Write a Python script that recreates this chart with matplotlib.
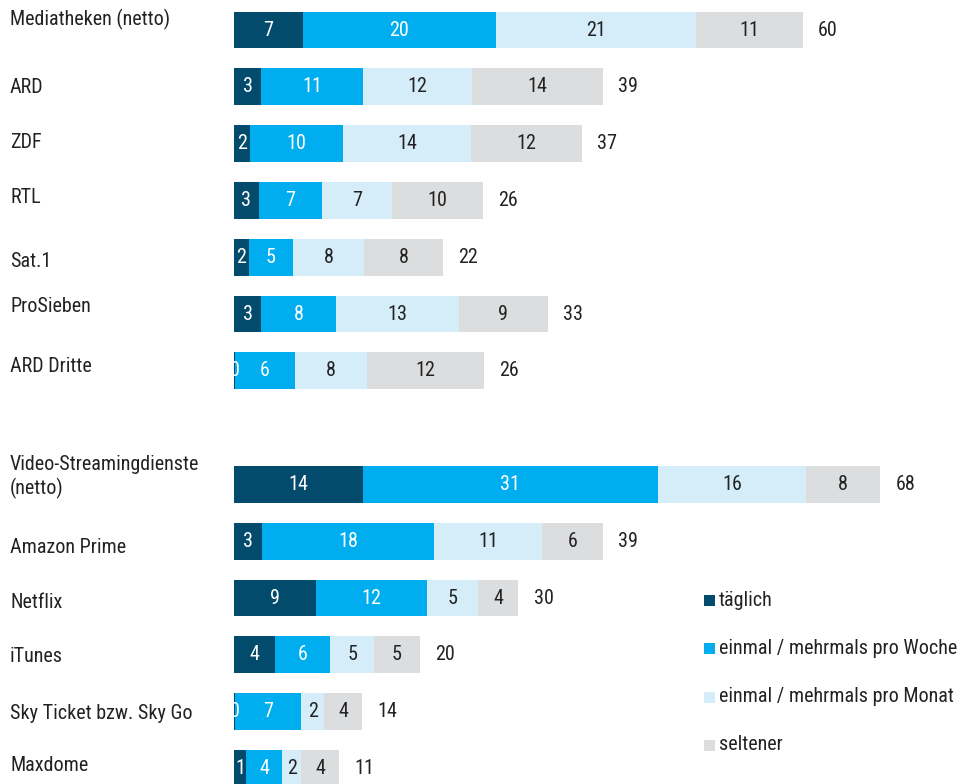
import matplotlib
matplotlib.use('Agg')
import matplotlib.pyplot as plt
from matplotlib.patches import Rectangle
from matplotlib.transforms import blended_transform_factory

plt.rcParams['font.family'] = ['Roboto Condensed', 'Roboto', 'DejaVu Sans']

categories = ['Mediatheken (netto)', 'ARD', 'ZDF', 'RTL', 'Sat.1', 'ProSieben', 'ARD Dritte',
              'Video-Streamingdienste\n(netto)', 'Amazon Prime', 'Netflix', 'iTunes',
              'Sky Ticket bzw. Sky Go', 'Maxdome']
positions = [0, 1, 2, 3, 4, 5, 6, 8, 9, 10, 11, 12, 13]

# Prozent, Balkenlaengen aus dem Bild geschaetzt (Beschriftung = gerundet)
taeglich = [7.3, 2.9, 1.7, 2.6, 1.6, 2.9, 0.14, 13.6, 3.0, 8.7, 4.3, 0.14, 1.3]
woche = [20.4, 10.7, 9.8, 6.7, 4.6, 7.9, 6.3, 31.3, 18.2, 11.7, 5.9, 7.0, 3.8]
monat = [21.2, 11.6, 13.6, 7.4, 7.6, 13.0, 7.6, 15.6, 11.4, 5.4, 4.6, 2.4, 2.0]
seltener = [11.3, 13.8, 11.7, 9.6, 8.3, 9.4, 12.4, 7.9, 6.4, 4.3, 4.9, 4.0, 4.0]
totals = [60, 39, 37, 26, 22, 33, 26, 68, 39, 30, 20, 14, 11]

series_names = ['täglich', 'einmal / mehrmals pro Woche', 'einmal / mehrmals pro Monat', 'seltener']
colors = ['#034b6c', '#00aeef', '#d5edf9', '#dcdddf']
text_colors = ['white', 'white', '#222222', '#222222']
fs = 14.5

# die Kategorienamen sitzen im Original nicht genau mittig (Pixel, + = tiefer)
label_shift = [-11, 1, -1, -3, 4.5, -8, -4, -7, 6, 5, 2, 2, -3]

W, H = 958, 784
fig = plt.figure(figsize=(W / 100, H / 100), dpi=100)
x0 = 234
px_unit = 9.45
ax = fig.add_axes([x0 / W, 0, 1 - x0 / W, 1])
ax.set_xlim(0, (W - x0) / px_unit)
row = 56.8
ax.set_ylim((H - 30) / row, -30 / row)
ax.axis('off')

left = [0] * len(categories)
for vals, c, tc in zip([taeglich, woche, monat, seltener], colors, text_colors):
    ax.barh(positions, vals, left=left, height=0.65, color=c, edgecolor='none')
    for p, v, l in zip(positions, vals, left):
        ax.text(l + v / 2, p, f'{v:.0f}', ha='center', va='center',
                fontsize=fs, color=tc, clip_on=True)
    left = [a + b for a, b in zip(left, vals)]

for p, l, t in zip(positions, left, totals):
    ax.text(l + 1.6, p, str(t), ha='left', va='center', fontsize=fs, color='#222222')

trans = blended_transform_factory(fig.transFigure, ax.transData)
for p, name, dy in zip(positions, categories, label_shift):
    ax.text(10 / W, p + dy / row, name, transform=trans, ha='left', va='center',
            fontsize=fs, color='#222222', clip_on=False, linespacing=1.25)

# Legende
leg_y = [600, 648, 697, 745]
for y, name, c in zip(leg_y, series_names, colors):
    fig.patches.append(Rectangle((704 / W, 1 - (y + 5.5) / H), 11 / W, 11 / H,
                                 transform=fig.transFigure, facecolor=c, edgecolor='none'))
    fig.text(719 / W, 1 - y / H, name, ha='left', va='center', fontsize=fs, color='#222222')

fig.savefig('out.png', dpi=100)
